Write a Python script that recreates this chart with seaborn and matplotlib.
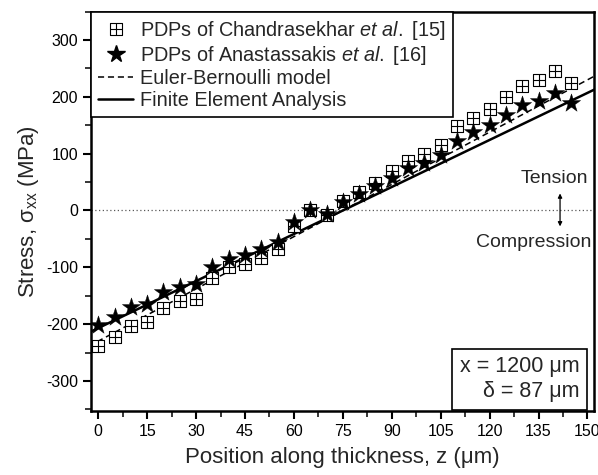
import matplotlib
matplotlib.use("Agg")
import matplotlib.pyplot as plt
from matplotlib.path import Path
from matplotlib.lines import Line2D
import seaborn as sns
import pandas as pd

# Measured stress profiles along the beam thickness
z_pts = [0, 5, 10, 15, 20, 25, 30, 35, 40, 45, 50, 55, 60, 65, 70,
         75, 80, 85, 90, 95, 100, 105, 110, 115, 120, 125, 130, 135, 140, 145]
chandrasekhar = [-238, -223, -204, -197, -172, -160, -156, -119, -100, -94,
                 -84, -68, -27, 0, -8, 16, 32, 49, 69, 87,
                 100, 116, 148, 163, 178, 199, 220, 230, 246, 224]
anastassakis = [-201, -188, -170, -165, -144, -134, -130, -99, -85, -78,
                -68, -56, -21, 0, -7, 15, 29, 43, 58, 74,
                83, 97, 123, 138, 151, 169, 186, 193, 207, 190]

# Model predictions (linear through the neutral axis)
z_line = [-3, 153]
euler_bernoulli = [-239.2, 239.2]
fea = [-215.3, 215.3]

sns.set_style("ticks")
plt.rcParams["font.family"] = ["Liberation Sans", "DejaVu Sans"]
plt.rcParams["mathtext.fontset"] = "custom"
plt.rcParams["mathtext.rm"] = "Liberation Sans"
plt.rcParams["mathtext.it"] = "Liberation Sans:italic"
plt.rcParams["mathtext.bf"] = "Liberation Sans:bold"

pts = pd.DataFrame({"z": z_pts, "chand": chandrasekhar, "anast": anastassakis})
lines = pd.DataFrame({"z": z_line, "eb": euler_bernoulli, "fea": fea})

# square-with-cross marker
box_plus = Path(
    [(-1, -1), (1, -1), (1, 1), (-1, 1), (-1, -1), (0, -1), (0, 1), (-1, 0), (1, 0)],
    [Path.MOVETO, Path.LINETO, Path.LINETO, Path.LINETO, Path.CLOSEPOLY,
     Path.MOVETO, Path.LINETO, Path.MOVETO, Path.LINETO],
)

fig = plt.figure(figsize=(5.98, 4.75), dpi=100)
ax = fig.add_axes([0.1517, 0.1347, 0.8421, 0.8407])

ax.axhline(0, color="0.35", lw=0.9, ls=(0, (1, 2)), zorder=1)

sns.lineplot(data=lines, x="z", y="eb", ax=ax, color="black", lw=1.1,
             linestyle=(0, (4, 2.5)), zorder=2)
sns.lineplot(data=lines, x="z", y="fea", ax=ax, color="black", lw=1.8, zorder=2)
sns.scatterplot(data=pts, x="z", y="chand", ax=ax, marker=box_plus, s=64,
                facecolor="white", edgecolor="black", linewidth=0.8, zorder=3)
sns.scatterplot(data=pts, x="z", y="anast", ax=ax, marker="*", s=190,
                color="black", edgecolor="black", linewidth=0.3, zorder=4)

ax.set_xlim(-2.3, 152.1)
ax.set_ylim(-353, 347)
ax.set_xticks(range(0, 151, 15))
ax.set_xticks([x + 7.5 for x in range(0, 150, 15)], minor=True)
ax.set_yticks([-300, -200, -100, 0, 100, 200, 300])
ax.set_yticks([-350, -250, -150, -50, 50, 150, 250, 350], minor=True)
ax.set_yticklabels(["-300", "-200", "-100", "0", "100", "200", "300"])
ax.tick_params(which="major", direction="out", length=6, width=1.5,
               labelsize=11.5, colors="black", pad=3)
ax.tick_params(which="minor", direction="out", length=4, width=1.3)
for sp in ax.spines.values():
    sp.set_linewidth(1.8)
    sp.set_color("black")

ax.set_xlabel("Position along thickness, z (μm)", fontsize=16, labelpad=6)
ax.set_ylabel("Stress, σ$_{\\mathrm{xx}}$ (MPa)", fontsize=16, labelpad=4)

handles = [
    Line2D([], [], ls="none", marker=box_plus, ms=8, mfc="white", mec="black", mew=0.8),
    Line2D([], [], ls="none", marker="*", ms=13, color="black"),
    Line2D([], [], color="black", lw=1.1, ls=(0, (4, 2.5))),
    Line2D([], [], color="black", lw=1.8),
]
labels = [
    r"PDPs of Chandrasekhar $\mathit{et\ al.}$ [15]",
    r"PDPs of Anastassakis $\mathit{et\ al.}$ [16]",
    "Euler-Bernoulli model",
    "Finite Element Analysis",
]
leg = ax.legend(handles, labels, loc="upper left", borderaxespad=0,
                fontsize=14.3, frameon=True, fancybox=False, framealpha=1,
                edgecolor="black", handlelength=1.8, handletextpad=0.35,
                labelspacing=0.12, borderpad=0.35)
leg.get_frame().set_linewidth(1.2)

ax.text(139.8, 56, "Tension", fontsize=14, ha="center", va="center")
ax.text(151.3, -56, "Compression", fontsize=14, ha="right", va="center")
ax.annotate("", xy=(141.6, 30), xytext=(141.6, -28),
            arrowprops=dict(arrowstyle="<|-|>", color="black", lw=0.9,
                            mutation_scale=6, shrinkA=0, shrinkB=0))

ax.text(0.9705, 0.0215, "x = 1200 μm\nδ = 87 μm", transform=ax.transAxes,
        fontsize=15.5, ha="right", va="bottom", linespacing=1.25,
        bbox=dict(boxstyle="square,pad=0.35", facecolor="white",
                  edgecolor="black", linewidth=1.2))

fig.savefig("out.png", dpi=100)
